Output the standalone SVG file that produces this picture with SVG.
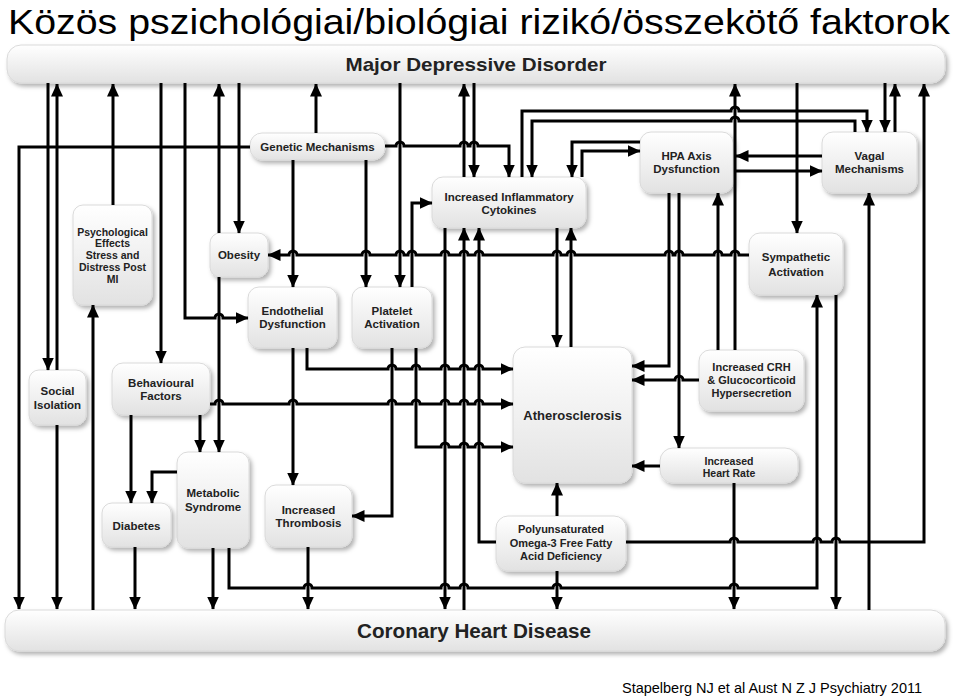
<svg xmlns="http://www.w3.org/2000/svg" width="960" height="697" viewBox="0 0 960 697">
<defs>
<linearGradient id="g" x1="0" y1="0" x2="0" y2="1"><stop offset="0" stop-color="#ffffff"/><stop offset="1" stop-color="#e2e2e2"/></linearGradient>
<filter id="sh" x="-20%" y="-20%" width="140%" height="150%"><feDropShadow dx="2.5" dy="3" stdDeviation="2" flood-color="#000" flood-opacity="0.3"/></filter>
<marker id="a" markerWidth="13" markerHeight="12" refX="12.5" refY="6" orient="auto" markerUnits="userSpaceOnUse"><path d="M0,0 L13,6 L0,12 z" fill="#000"/></marker>
</defs>
<style>
.n rect{fill:url(#g);stroke:#dadada;stroke-width:1;filter:url(#sh)}
.n text{font-family:"Liberation Sans",Arial,sans-serif;font-weight:bold;font-size:11.5px;fill:#222;text-anchor:middle}
.s text{font-size:10.5px}
#c path{fill:none;stroke:#000;stroke-width:3;marker-end:url(#a)}
.t{font-family:"Liberation Sans",Arial,sans-serif;fill:#000}
</style>
<rect width="960" height="697" fill="#fff"/>
<text class="t" x="8" y="34" font-size="35" textLength="942" lengthAdjust="spacingAndGlyphs">Közös pszichológiai/biológiai rizikó/összekötő faktorok</text>
<text class="t" x="622" y="693" font-size="15" textLength="300" lengthAdjust="spacingAndGlyphs">Stapelberg NJ et al  Aust N Z J Psychiatry 2011</text>

<g id="mdd" class="n"><rect x="7" y="45" width="938" height="38" rx="14"/><text x="476" y="71" style="font-size:19px" textLength="261" lengthAdjust="spacingAndGlyphs">Major Depressive Disorder</text></g>
<g id="chd" class="n"><rect x="5" y="610" width="940" height="41" rx="14"/><text x="474" y="638" style="font-size:20px" textLength="234" lengthAdjust="spacingAndGlyphs">Coronary Heart Disease</text></g>
<g id="genetic" class="n"><rect x="250" y="133" width="135" height="27" rx="12"/><text x="317.5" y="150.5">Genetic Mechanisms</text></g>
<g id="psych" class="n s"><rect x="73" y="205" width="79" height="100" rx="10"/><text x="112.5" y="236">Psychological</text><text x="112.5" y="247">Effects</text><text x="112.5" y="259">Stress and</text><text x="112.5" y="271">Distress Post</text><text x="112.5" y="283">MI</text></g>
<g id="obesity" class="n"><rect x="210" y="233" width="58" height="44" rx="10"/><text x="239" y="259">Obesity</text></g>
<g id="inflam" class="n"><rect x="432" y="177" width="154" height="51" rx="11"/><text x="509" y="201">Increased Inflammatory</text><text x="509" y="214">Cytokines</text></g>
<g id="hpa" class="n"><rect x="640" y="132" width="93" height="61" rx="11"/><text x="686.5" y="160">HPA Axis</text><text x="686.5" y="173">Dysfunction</text></g>
<g id="vagal" class="n"><rect x="822" y="132" width="95" height="61" rx="11"/><text x="869.5" y="160">Vagal</text><text x="869.5" y="173">Mechanisms</text></g>
<g id="symp" class="n"><rect x="749" y="233" width="94" height="62" rx="11"/><text x="796" y="261">Sympathetic</text><text x="796" y="276">Activation</text></g>
<g id="endo" class="n"><rect x="248" y="287" width="89" height="61" rx="11"/><text x="292.5" y="315">Endothelial</text><text x="292.5" y="328">Dysfunction</text></g>
<g id="platelet" class="n"><rect x="352" y="287" width="80" height="61" rx="11"/><text x="392" y="315">Platelet</text><text x="392" y="328">Activation</text></g>
<g id="social" class="n"><rect x="29" y="370" width="57" height="55" rx="10"/><text x="57.5" y="395">Social</text><text x="57.5" y="409">Isolation</text></g>
<g id="behav" class="n"><rect x="112" y="363" width="98" height="52" rx="11"/><text x="161" y="387">Behavioural</text><text x="161" y="400">Factors</text></g>
<g id="athero" class="n"><rect x="513" y="347" width="119" height="136" rx="12"/><text x="572.5" y="420" style="font-size:13px">Atherosclerosis</text></g>
<g id="crh" class="n"><rect x="699" y="350" width="105" height="61" rx="11"/><text x="751.5" y="371" style="font-size:11px">Increased CRH</text><text x="751.5" y="384" style="font-size:11px">&amp; Glucocorticoid</text><text x="751.5" y="397" style="font-size:11px">Hypersecretion</text></g>
<g id="heartrate" class="n s"><rect x="660" y="448" width="138" height="35" rx="13"/><text x="729" y="464.5">Increased</text><text x="729" y="477">Heart Rate</text></g>
<g id="metabolic" class="n"><rect x="177" y="452" width="72" height="96" rx="11"/><text x="213" y="497">Metabolic</text><text x="213" y="511">Syndrome</text></g>
<g id="diabetes" class="n"><rect x="102" y="503" width="69" height="44" rx="10"/><text x="136.5" y="530">Diabetes</text></g>
<g id="thrombosis" class="n"><rect x="265" y="485" width="87" height="62" rx="11"/><text x="308.5" y="514">Increased</text><text x="308.5" y="527">Thrombosis</text></g>
<g id="poly" class="n"><rect x="496" y="516" width="130" height="55" rx="12"/><text x="561" y="533" style="font-size:11px">Polyunsaturated</text><text x="561" y="547" style="font-size:11px">Omega-3 Free Fatty</text><text x="561" y="560" style="font-size:11px">Acid Deficiency</text></g>

<g id="c">
<path d="M48,83 V370"/>
<path d="M57,370 V84"/>
<path d="M57,425 V609"/>
<path d="M250,147 H19 V609"/>
<path d="M93,610 V305"/>
<path d="M113,205 V84"/>
<path d="M161,83 V363"/>
<path d="M185,83 V318 H215 a4,4 0 0 1 8,0 H248"/>
<path d="M219,233 V84"/>
<path d="M239,83 V233"/>
<path d="M219,277 V452"/>
<path d="M316,133 V84"/>
<path d="M293,160 V287"/>
<path d="M366,160 V287"/>
<path d="M385,146 H396 a4,4 0 0 1 8,0 H460 a4,4 0 0 1 8,0 H470 a4,4 0 0 1 8,0 H509 V177"/>
<path d="M400,83 V287"/>
<path d="M412,287 V203 H432"/>
<path d="M749,255 H739 a4,4 0 0 0 -8,0 H722 a4,4 0 0 0 -8,0 H683 a4,4 0 0 0 -8,0 H673 a4,4 0 0 0 -8,0 H575 a4,4 0 0 0 -8,0 H561 a4,4 0 0 0 -8,0 H483 a4,4 0 0 0 -8,0 H468 a4,4 0 0 0 -8,0 H449 a4,4 0 0 0 -8,0 H416 a4,4 0 0 0 -8,0 H404 a4,4 0 0 0 -8,0 H370 a4,4 0 0 0 -8,0 H297 a4,4 0 0 0 -8,0 H268"/>
<path d="M464,177 V84"/>
<path d="M474,83 V177"/>
<path d="M522,177 V111 H731 a4,4 0 0 1 8,0 H867 V132"/>
<path d="M855,132 V121 H739 a4,4 0 0 0 -8,0 H532 V177"/>
<path d="M640,142 H572 V177"/>
<path d="M582,177 V151 H640"/>
<path d="M735,350 V84"/>
<path d="M718,350 V193"/>
<path d="M669,193 V366 H632"/>
<path d="M679,193 V448"/>
<path d="M699,380 H683 a4,4 0 0 0 -8,0 H632"/>
<path d="M822,156 H736"/>
<path d="M734,171 H822"/>
<path d="M797,83 V233"/>
<path d="M885,83 V132"/>
<path d="M895,132 V84"/>
<path d="M626,542 H730 a4,4 0 0 1 8,0 H813 a4,4 0 0 1 8,0 H832 a4,4 0 0 1 8,0 H924 V84"/>
<path d="M869,610 V193"/>
<path d="M229,548 V588 H304 a4,4 0 0 1 8,0 H441 a4,4 0 0 1 8,0 H460 a4,4 0 0 1 8,0 H553 a4,4 0 0 1 8,0 H730 a4,4 0 0 1 8,0 H817 V295"/>
<path d="M836,295 V609"/>
<path d="M734,483 V609"/>
<path d="M660,466 H632"/>
<path d="M445,228 V609"/>
<path d="M464,610 V228"/>
<path d="M496,542 H479 V228"/>
<path d="M557,228 V347"/>
<path d="M571,347 V228"/>
<path d="M557,516 V483"/>
<path d="M557,571 V609"/>
<path d="M307,348 V369 H388 a4,4 0 0 1 8,0 H412 a4,4 0 0 1 8,0 H441 a4,4 0 0 1 8,0 H460 a4,4 0 0 1 8,0 H475 a4,4 0 0 1 8,0 H513"/>
<path d="M210,404 H215 a4,4 0 0 1 8,0 H289 a4,4 0 0 1 8,0 H388 a4,4 0 0 1 8,0 H412 a4,4 0 0 1 8,0 H441 a4,4 0 0 1 8,0 H460 a4,4 0 0 1 8,0 H475 a4,4 0 0 1 8,0 H513"/>
<path d="M416,348 V447 H441 a4,4 0 0 1 8,0 H460 a4,4 0 0 1 8,0 H475 a4,4 0 0 1 8,0 H513"/>
<path d="M392,348 V516 H352"/>
<path d="M293,348 V485"/>
<path d="M200,415 V452"/>
<path d="M131,415 V503"/>
<path d="M177,472 H152 V503"/>
<path d="M135,547 V609"/>
<path d="M213,548 V609"/>
<path d="M308,547 V609"/>
</g>
</svg>
